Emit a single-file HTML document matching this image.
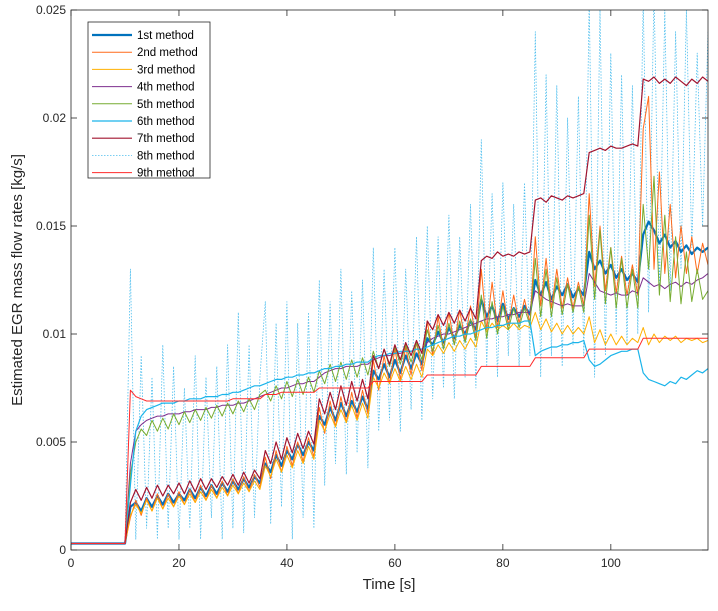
<!DOCTYPE html>
<html><head><meta charset="utf-8"><style>
body{margin:0;background:#fff;}
svg{font-family:"Liberation Sans",Arial,sans-serif;}
</style></head><body>
<svg id="chart" width="718" height="606" viewBox="0 0 718 606">
<rect x="0" y="0" width="718" height="606" fill="#fff"/>
<defs><clipPath id="pc"><rect x="71" y="10" width="637" height="540"/></clipPath></defs>
<g id="grid"></g>
<g id="series" clip-path="url(#pc)"></g>
<rect x="71" y="10" width="637" height="540" fill="none" stroke="#262626" stroke-width="0.8"/>
<g id="ticks"></g>
<text x="389" y="589" text-anchor="middle" font-size="15" fill="#262626">Time [s]</text>
<text transform="translate(22,280) rotate(-90)" text-anchor="middle" font-size="15" fill="#262626">Estimated EGR mass flow rates [kg/s]</text>
<g id="legend"></g>
</svg>
<script>
const xTicks=[0,20,40,60,80,100];
const yTicks=[0,0.005,0.01,0.015,0.02,0.025];
const yTickLabels=["0","0.005","0.01","0.015","0.02","0.025"];
const names=["1st method","2nd method","3rd method","4th method","5th method","6th method","7th method","8th method","9th method"];
const pre=[0.3,0.3,0.3,0.3,0.3,0.3,0.3,0.3,0.3,0.3,0.3];
const s1=pre.concat([2.0,2.2,1.8,2.4,2.0,2.5,2.1,2.6,2.2,2.6,2.3,2.8,2.4,2.9,2.5,3.0,2.6,3.1,2.7,3.2,2.8,3.3,2.9,3.4,3.1,4.0,3.6,4.4,3.9,4.6,4.2,4.9,4.4,5.0,4.6,6.2,5.8,6.6,6.0,6.8,6.2,6.9,6.4,7.1,6.5,8.3,7.9,8.6,8.0,8.8,8.2,9.0,8.4,9.1,8.6,9.8,9.5,10.1,9.6,10.3,9.8,10.4,10.0,10.6,10.2,11.6,10.8,11.3,10.6,11.4,10.7,11.2,10.8,11.3,10.9,12.5,11.8,12.4,11.6,12.2,11.8,12.3,11.7,12.1,11.8,13.8,13.0,13.4,12.8,13.2,12.6,13.0,12.5,12.8,12.4,14.6,15.2,14.8,14.2,14.6,14.0,14.3,13.8,14.1,13.7,14.0,13.8,14.0]);
const s2=pre.concat([1.5,2.3,1.6,2.4,1.8,2.6,1.9,2.6,2.0,2.7,2.1,2.8,2.2,3.0,2.3,3.0,2.4,3.2,2.5,3.3,2.6,3.4,2.7,3.5,2.9,4.3,3.3,4.6,3.6,4.8,3.9,5.0,4.1,5.2,4.3,6.6,5.4,6.9,5.7,7.1,5.9,7.3,6.1,7.4,6.3,8.8,7.4,9.0,7.7,9.3,7.9,9.4,8.1,9.6,8.3,10.6,9.0,10.8,9.3,11.0,9.5,11.1,9.7,11.3,9.8,13.0,10.2,12.4,10.3,12.0,10.4,11.8,10.5,11.6,10.5,14.5,11.3,13.5,11.2,13.0,11.2,12.6,11.2,12.4,11.3,16.5,12.2,15.0,12.0,14.0,11.9,13.6,11.8,13.2,11.8,19.5,21.0,13.0,17.5,12.8,16.0,12.6,15.0,12.8,14.5,12.8,14.2,13.2]);
const s3=pre.concat([1.6,2.1,1.7,2.3,1.8,2.4,1.9,2.4,2.0,2.5,2.1,2.6,2.2,2.7,2.3,2.8,2.4,2.9,2.5,3.0,2.6,3.1,2.7,3.2,2.8,3.9,3.4,4.2,3.6,4.4,3.8,4.6,4.0,4.8,4.2,6.0,5.5,6.3,5.7,6.5,5.9,6.7,6.0,6.8,6.1,8.0,7.5,8.2,7.7,8.4,7.8,8.5,7.9,8.6,8.0,9.3,9.0,9.5,9.1,9.6,9.2,9.7,9.3,9.8,9.4,10.6,10.1,10.5,10.2,10.4,10.2,10.5,10.2,10.4,10.3,11.0,10.2,10.7,10.1,10.5,10.0,10.4,10.0,10.3,10.0,10.8,9.6,10.2,9.5,10.0,9.5,9.9,9.5,9.8,9.6,10.3,9.5,10.0,9.6,9.9,9.7,9.9,9.6,9.8,9.7,9.8,9.6,9.7]);
const s4=pre.concat([4.0,5.5,5.8,6.0,6.1,6.2,6.2,6.3,6.3,6.3,6.4,6.4,6.5,6.5,6.5,6.6,6.6,6.7,6.7,6.7,6.8,6.8,6.9,7.0,7.1,7.2,7.3,7.4,7.5,7.5,7.6,7.7,7.7,7.8,7.8,8.0,8.2,8.3,8.4,8.4,8.5,8.5,8.5,8.6,8.6,8.8,8.9,9.0,9.0,9.1,9.1,9.2,9.2,9.3,9.3,9.6,9.8,9.9,10.0,10.0,10.1,10.2,10.3,10.4,10.5,10.6,10.7,10.7,10.8,10.8,10.9,10.9,11.0,11.0,11.0,12.0,11.8,11.6,11.5,11.4,11.3,11.4,11.3,11.3,11.3,12.8,12.4,12.0,11.9,11.8,11.9,11.8,11.8,12.0,11.9,12.6,12.4,12.2,12.3,12.1,12.3,12.4,12.2,12.4,12.3,12.5,12.6,12.8]);
const s5=pre.concat([3.5,5.0,5.6,5.3,6.0,5.5,6.1,5.6,6.3,5.8,6.4,5.9,6.5,6.0,6.6,6.1,6.7,6.2,6.8,6.3,6.9,6.4,7.0,6.5,7.2,7.4,6.9,7.6,7.0,7.8,7.1,7.9,7.2,8.0,7.3,8.3,7.7,8.6,7.8,8.7,7.9,8.8,8.0,8.9,8.1,9.2,8.4,9.3,8.5,9.4,8.6,9.5,8.7,9.6,8.8,10.2,9.2,10.4,9.3,10.5,9.5,10.6,9.6,10.7,9.7,11.8,9.8,11.5,10.0,11.3,10.2,11.2,10.3,11.2,10.4,13.5,10.8,13.0,10.8,12.6,10.9,12.3,11.0,12.2,11.0,15.5,11.6,14.8,11.4,14.0,11.2,13.5,11.2,13.0,11.2,16.0,13.0,17.3,11.8,15.5,11.5,14.5,11.4,13.8,11.5,13.0,11.6,12.0]);
const s6=pre.concat([3.0,5.5,6.2,6.5,6.6,6.7,6.8,6.8,6.8,6.9,6.9,7.0,7.0,7.0,7.1,7.1,7.1,7.2,7.2,7.3,7.3,7.4,7.5,7.6,7.6,7.7,7.8,7.9,7.9,8.0,8.0,8.1,8.1,8.2,8.2,8.3,8.4,8.4,8.5,8.5,8.6,8.6,8.7,8.7,8.7,8.9,9.0,9.0,9.1,9.1,9.2,9.2,9.2,9.3,9.3,9.4,9.5,9.6,9.7,9.8,9.9,9.9,10.0,10.0,10.1,10.2,10.3,10.3,10.4,10.4,10.5,10.5,10.5,10.6,10.6,9.0,9.2,9.3,9.4,9.4,9.5,9.5,9.6,9.6,9.7,8.8,8.5,8.6,8.8,9.0,9.1,9.2,9.2,9.3,9.3,8.2,7.9,7.8,7.7,7.6,7.8,7.7,8.0,7.9,8.1,8.3,8.2,8.4]);
const s7=pre.concat([2.2,2.8,2.3,2.9,2.4,3.0,2.5,3.0,2.6,3.1,2.6,3.2,2.7,3.3,2.8,3.3,2.9,3.4,3.0,3.5,3.0,3.6,3.1,3.7,3.3,4.6,4.0,5.0,4.2,5.2,4.5,5.4,4.7,5.5,4.9,7.0,6.3,7.3,6.5,7.6,6.7,7.8,6.9,7.9,7.0,9.0,8.4,9.3,8.6,9.5,8.8,9.6,9.0,9.7,9.1,10.6,10.2,10.9,10.4,11.0,10.5,11.1,10.6,11.2,10.7,13.4,13.6,13.5,13.8,13.6,13.7,13.6,13.8,13.7,13.8,16.2,16.3,16.1,16.4,16.3,16.2,16.4,16.3,16.4,16.5,18.4,18.5,18.6,18.5,18.7,18.6,18.6,18.7,18.8,18.7,21.8,21.7,21.9,21.6,21.8,21.6,21.9,21.7,21.5,21.8,21.6,21.9,21.7]);
const s8=pre.concat([13.0,0.5,9.0,1.0,8.0,0.5,9.5,1.0,8.5,0.5,7.5,1.0,9.0,0.5,8.0,1.5,8.5,0.5,9.5,1.0,11.0,0.8,9.5,1.5,8.0,11.5,1.2,10.5,2.0,11.5,0.5,10.5,1.5,11.0,1.0,12.5,3.0,11.5,4.0,13.0,3.5,12.0,4.5,12.5,3.8,14.0,5.5,13.0,6.0,14.0,5.5,13.0,6.5,14.5,6.0,15.0,7.0,14.5,7.5,15.5,7.0,14.5,8.0,16.0,7.5,19.0,8.5,16.5,8.0,17.0,9.0,16.0,8.5,17.0,9.0,24.0,8.0,22.0,9.0,21.5,8.5,20.0,9.5,21.0,9.0,25.5,8.0,25.0,9.0,23.0,10.0,22.0,9.5,21.5,10.0,25.5,11.0,26.0,12.0,25.0,12.0,24.0,13.0,25.0,14.0,23.0,15.0,24.0]);
const s9=pre.concat([7.4,7.1,7.0,6.9,6.9,6.9,6.9,6.9,6.9,6.9,6.9,6.9,6.9,6.9,6.9,6.9,6.9,6.9,6.9,7.0,7.0,7.0,7.0,7.0,7.0,7.2,7.2,7.2,7.3,7.3,7.3,7.3,7.3,7.3,7.3,7.5,7.5,7.5,7.5,7.5,7.5,7.5,7.5,7.5,7.5,7.8,7.8,7.8,7.8,7.8,7.8,7.8,7.8,7.8,7.8,8.1,8.1,8.1,8.1,8.1,8.1,8.1,8.1,8.1,8.1,8.5,8.5,8.5,8.5,8.5,8.5,8.5,8.5,8.5,8.5,8.9,8.9,8.9,8.9,8.9,8.9,8.9,8.9,8.9,8.9,9.3,9.3,9.3,9.3,9.3,9.3,9.3,9.3,9.3,9.3,9.8,9.8,9.8,9.8,9.8,9.8,9.8,9.8,9.8,9.8,9.8,9.8,9.8]);

const X0=71,X1=708,Y0=550,Y1=10,XMAX=118,YMAX=0.025;
function xs(t){return X0+(X1-X0)*t/XMAX;}
function ys(v){return Y0-(Y0-Y1)*v/YMAX;}
const NS="http://www.w3.org/2000/svg";
function mk(tag,attrs,parent){const e=document.createElementNS(NS,tag);for(const k in attrs)e.setAttribute(k,attrs[k]);parent.appendChild(e);return e;}
const styles=[
 {c:"#0072BD",w:2.2,d:""},{c:"#FF6A1A",w:1,d:""},{c:"#FFB000",w:1,d:""},
 {c:"#7E2F8E",w:1,d:""},{c:"#77AC30",w:1,d:""},{c:"#1AB4EA",w:1.2,d:""},
 {c:"#A2142F",w:1.2,d:""},{c:"#4DBEEE",w:0.8,d:"1.5,1.5"},{c:"#FF2A2A",w:1,d:""}];
const data=[s1,s2,s3,s4,s5,s6,s7,s8,s9];
const order=[7,0,1,2,3,4,5,6,8];
const sg=document.getElementById("series");
order.forEach(i=>{
  const arr=data[i];
  const pts=arr.map((v,t)=>xs(t).toFixed(1)+","+ys(v/1000).toFixed(1)).join(" ");
  const st=styles[i];
  const p=mk("polyline",{points:pts,fill:"none",stroke:st.c,"stroke-width":st.w,"stroke-dasharray":st.d,"stroke-linejoin":"round"},sg);
  
  
});
const tg=document.getElementById("ticks");
xTicks.forEach(t=>{
  const x=xs(t);
  const l1=mk("line",{x1:x,x2:x,y1:Y0,y2:Y0-6,stroke:"#262626","stroke-width":0.8},tg);
  
  
  mk("line",{x1:x,x2:x,y1:Y1,y2:Y1+6,stroke:"#262626","stroke-width":0.8},tg);
  const tx=mk("text",{x:x,y:Y0+17,"text-anchor":"middle","font-size":12,fill:"#262626"},tg);
  tx.textContent=String(t);
  
  
});
yTicks.forEach((v,i)=>{
  const y=ys(v);
  const l1=mk("line",{x1:X0,x2:X0+6,y1:y,y2:y,stroke:"#262626","stroke-width":0.8},tg);
  
  
  mk("line",{x1:X1,x2:X1-6,y1:y,y2:y,stroke:"#262626","stroke-width":0.8},tg);
  const tx=mk("text",{x:X0-5,y:y+4,"text-anchor":"end","font-size":12,fill:"#262626"},tg);
  tx.textContent=yTickLabels[i];
  
  
});
const lg=document.getElementById("legend");
mk("rect",{x:88,y:22,width:122,height:156,fill:"#fff",stroke:"#262626","stroke-width":0.8},lg);
names.forEach((n,i)=>{
  const y=35+i*17.2;
  const st=styles[i];
  const ln=mk("line",{x1:92,x2:132,y1:y,y2:y,stroke:st.c,"stroke-width":st.w,"stroke-dasharray":st.d},lg);
  
  
  const tx=mk("text",{x:137,y:y+4,"font-size":11.5,fill:"#000"},lg);
  tx.textContent=n;
  
  
});
</script>
</body></html>
